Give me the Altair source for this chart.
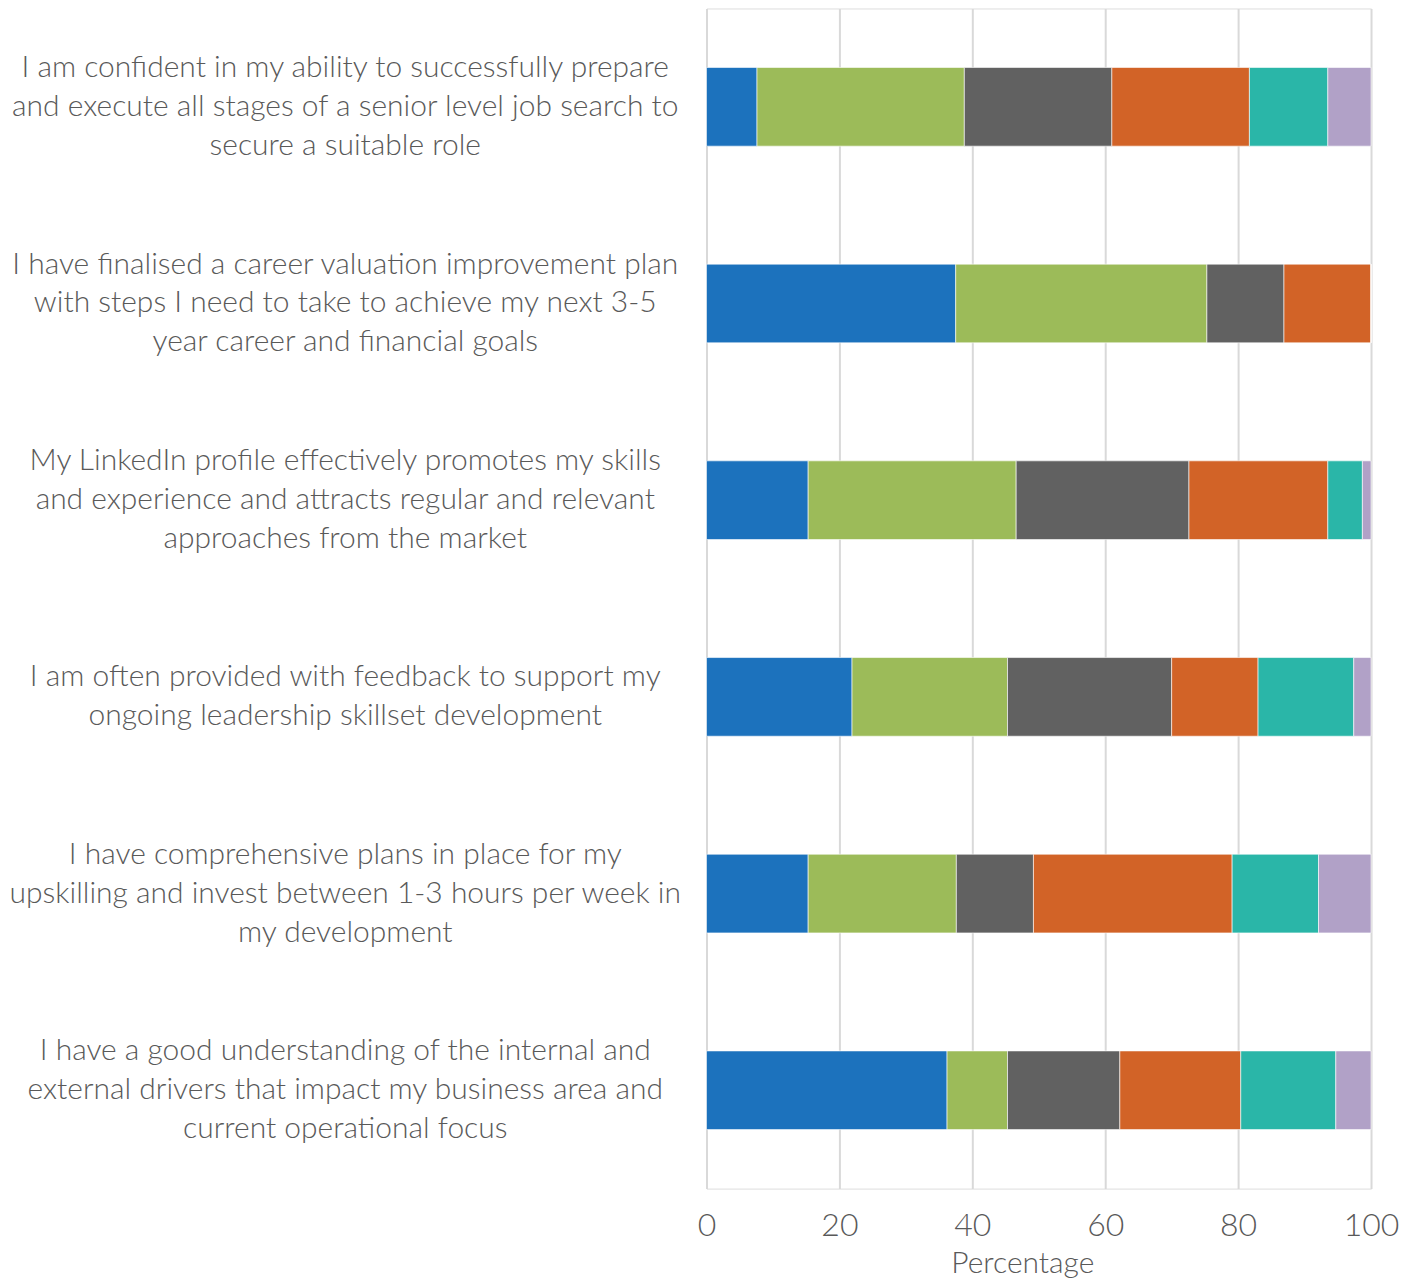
import altair as alt
import pandas as pd

questions = [
    "I am confident in my ability to successfully prepare|and execute all stages of a senior level job search to|secure a suitable role",
    "I have finalised a career valuation improvement plan|with steps I need to take to achieve my next 3-5|year career and financial goals",
    "My LinkedIn profile effectively promotes my skills|and experience and attracts regular and relevant|approaches from the market",
    "I am often provided with feedback to support my|ongoing leadership skillset development",
    "I have comprehensive plans in place for my|upskilling and invest between 1-3 hours per week in|my development",
    "I have a good understanding of the internal and|external drivers that impact my business area and|current operational focus",
]

series_names = ["Series 1", "Series 2", "Series 3", "Series 4", "Series 5", "Series 6"]
series_colors = ["#1C72BD", "#9CBB59", "#616161", "#D26327", "#2AB6A8", "#B1A1C7"]

s1 = [7.6, 37.5, 15.3, 21.9, 15.3, 36.2]
s2 = [31.2, 37.8, 31.3, 23.4, 22.3, 9.1]
s3 = [22.2, 11.6, 26.0, 24.7, 11.6, 16.9]
s4 = [20.7, 13.1, 20.9, 13.0, 29.9, 18.2]
s5 = [11.8, 0.0, 5.2, 14.4, 13.0, 14.3]
s6 = [6.5, 0.0, 1.3, 2.6, 7.9, 5.3]

rows = []
for si, (name, vals) in enumerate(zip(series_names, [s1, s2, s3, s4, s5, s6])):
    for q, v in zip(questions, vals):
        rows.append({"question": q, "series": name, "order": si, "value": v})
df = pd.DataFrame(rows)

FONT = "Lato"
TXT = "#595959"

chart = alt.Chart(df).mark_bar(stroke="white", strokeWidth=0.6).encode(
    y=alt.Y(
        "question:N",
        sort=questions,
        scale=alt.Scale(paddingInner=0.6, paddingOuter=0.3),
        axis=alt.Axis(
            title=None,
            labelExpr="split(datum.label, '|')",
            labelAlign="center",
            labelBaseline="middle",
            labelPadding=362,
            labelOffset={"condition": {"test": "length(split(datum.label, '|')) == 2", "value": -19.5}, "value": -39},
            labelLimit=0,
            labelFont=FONT,
            labelFontWeight=300,
            labelFontSize=30,
            labelLineHeight=39,
            labelColor=TXT,
            ticks=False,
            domain=False,
            grid=False,
        ),
    ),
    x=alt.X(
        "value:Q",
        stack="zero",
        scale=alt.Scale(domain=[0, 100], nice=False),
        axis=alt.Axis(
            title="Percentage",
            values=[0, 20, 40, 60, 80, 100],
            grid=True,
            gridColor="#D9D9D9",
            gridWidth=2,
            domain=False,
            ticks=False,
            labelFlush=False,
            labelPadding=22,
            labelFont=FONT,
            labelFontWeight=300,
            labelFontSize=32,
            labelColor=TXT,
            titleFont=FONT,
            titleFontSize=30,
            titleFontWeight=300,
            titleColor=TXT,
            titlePadding=7,
            titleX=316,
            titleAlign="center",
        ),
    ),
    color=alt.Color(
        "series:N",
        scale=alt.Scale(domain=series_names, range=series_colors),
        legend=None,
    ),
    order=alt.Order("order:Q"),
).properties(
    width=665,
    height=1181,
    padding={"left": 0, "top": 0, "right": 0, "bottom": 0},
).configure_view(stroke=None).configure(background="white")

chart.save("out.html", embed_options={"renderer": "svg", "actions": False})
